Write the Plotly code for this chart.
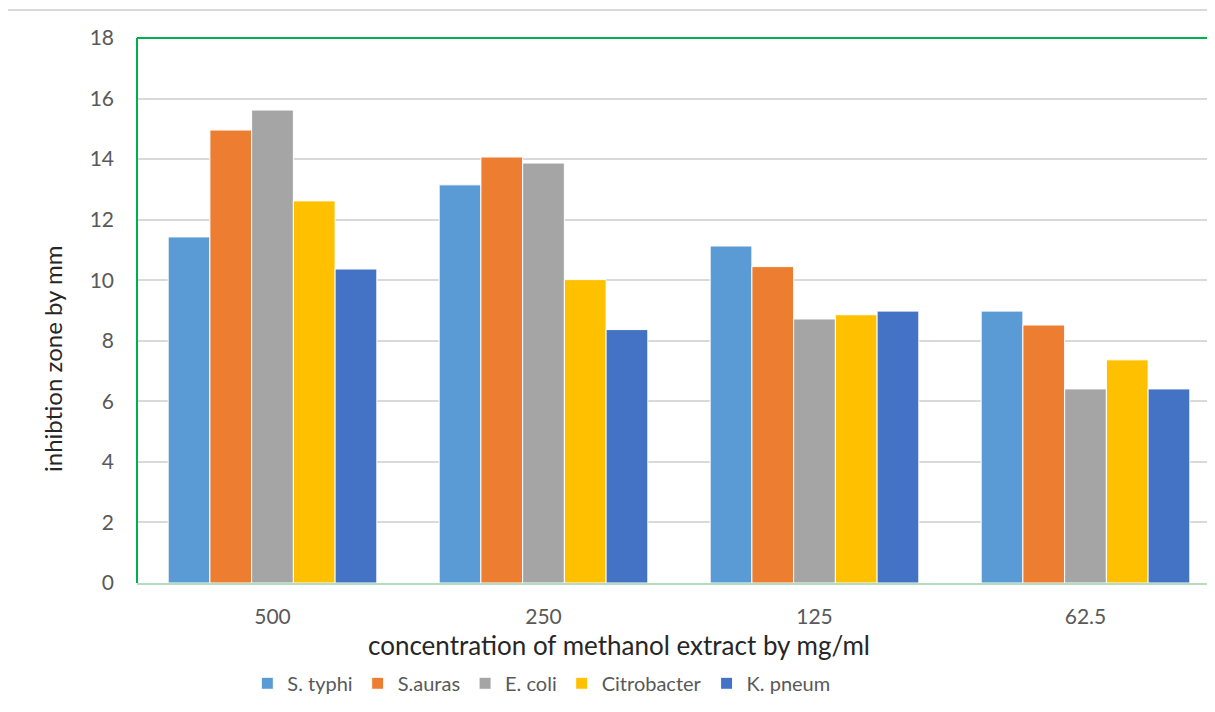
import plotly.graph_objects as go

categories = ["500", "250", "125", "62.5"]
series_names = ["S. typhi", "S.auras", "E. coli", "Citrobacter", "K. pneum"]
s_typhi = [11.43, 13.15, 11.13, 8.98]
s_auras = [14.96, 14.07, 10.45, 8.52]
e_coli = [15.62, 13.87, 8.72, 6.41]
citrobacter = [12.62, 10.02, 8.86, 7.37]
k_pneum = [10.37, 8.37, 8.98, 6.41]
colors = ["#5B9BD5", "#ED7D31", "#A5A5A5", "#FFC000", "#4472C4"]
y_ticks = [0, 2, 4, 6, 8, 10, 12, 14, 16, 18]

values = [s_typhi, s_auras, e_coli, citrobacter, k_pneum]

FONT = "Lato, Open Sans, sans-serif"
fig = go.Figure()
for name, vals, col in zip(series_names, values, colors):
    fig.add_trace(go.Bar(
        x=categories, y=vals, name=name,
        marker=dict(color=col, line=dict(color="white", width=1)),
    ))

fig.update_layout(
    width=1215, height=712,
    paper_bgcolor="white", plot_bgcolor="white",
    margin=dict(l=129, r=2, t=30, b=137, autoexpand=False),
    barmode="group", bargap=0.23, bargroupgap=0,
    font=dict(family=FONT, color="#595959", size=21),
    legend=dict(orientation="h", x=0.373, xanchor="center", y=-0.184, yanchor="middle",
                font=dict(size=20, color="#595959"), traceorder="normal",
                itemwidth=30, tracegroupgap=0),
    showlegend=True,
)
fig.update_xaxes(
    type="category",
    showgrid=False, showline=True, linecolor="#B4DCC0", linewidth=2,
    ticks="", tickfont=dict(size=21, color="#595959"), ticklabelstandoff=14,
)
fig.update_yaxes(
    range=[0, 18], tickvals=y_ticks,
    showgrid=True, gridcolor="#D9D9D9", gridwidth=2,
    zeroline=False, showline=False, ticks="",
    tickfont=dict(size=21, color="#595959"), ticklabelstandoff=22,
)
fig.add_annotation(text="concentration of methanol extract by mg/ml", showarrow=False,
                   xref="paper", yref="paper", x=0.445, y=-0.114, xanchor="center",
                   yanchor="middle", font=dict(size=26, color="#262626", family=FONT))
fig.add_annotation(text="inhibtion zone by mm", textangle=-90, showarrow=False,
                   xref="paper", yref="paper", x=0, y=0.411, xanchor="center",
                   yanchor="middle", xshift=-85,
                   font=dict(size=24, color="#262626", family=FONT))
# green border (top, left, right)
fig.add_shape(type="line", xref="paper", yref="paper", x0=0, x1=1, y0=1, y1=1,
              line=dict(color="#00B050", width=2))
fig.add_shape(type="line", xref="paper", yref="paper", x0=0, x1=0, y0=0, y1=1,
              line=dict(color="#00B050", width=2))
fig.add_shape(type="line", xref="paper", yref="paper", x0=1, x1=1, y0=0, y1=1,
              line=dict(color="#00B050", width=2))
# top gray line of chart frame
fig.add_shape(type="line", xref="paper", yref="paper", x0=-0.121, x1=1.01,
              y0=1.0514, y1=1.0514, line=dict(color="#D9D9D9", width=2))

fig.write_html("out.html")
